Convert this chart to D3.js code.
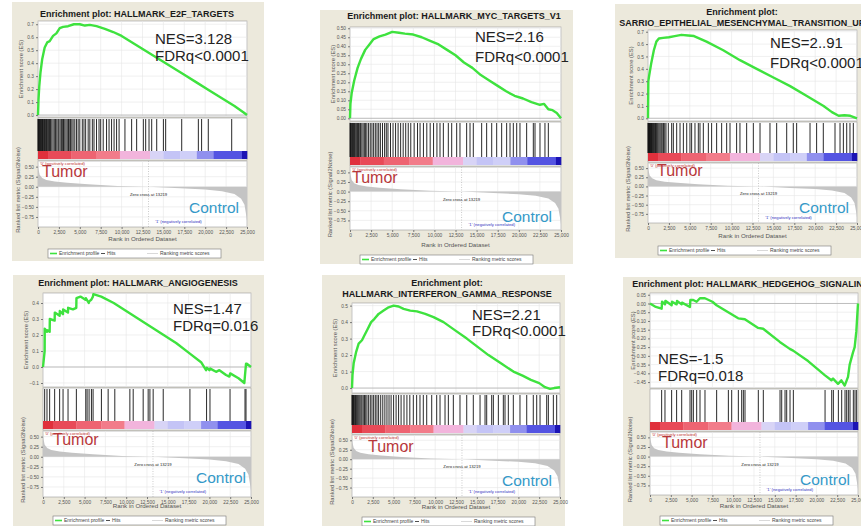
<!DOCTYPE html>
<html>
<head>
<meta charset="utf-8">
<script src="https://cdn.jsdelivr.net/npm/d3@7"></script>
<style>
  body { margin: 0; background: #fff; }
  text { font-family: "Liberation Sans", Arial, sans-serif; }
</style>
</head>
<body>
<svg id="chart" width="861" height="526"></svg>
<script>
// ---- shared data (same ranked list in every plot) ----
var rankTicks = [0, 2500, 5000, 7500, 10000, 12500, 15000, 17500, 20000, 22500, 25000];
var metricTicks = [0.5, 0.25, 0, -0.25, -0.5, -0.75];
var zeroCross = 13219;

var metricRank  = [0, 50, 200, 500, 1000, 2000, 3500, 6000, 9500, 13219, 17000, 20000, 22000, 23500, 24300, 24700, 24900, 25000];
var metricValue = [0.62, 0.45, 0.3, 0.22, 0.17, 0.13, 0.1, 0.06, 0.02, 0, -0.04, -0.07, -0.11, -0.18, -0.3, -0.45, -0.7, -0.85];

var barStops  = [0, 1200, 4000, 7000, 9800, 13400, 15000, 17000, 19000, 21000, 24400, 25000];
var barColors = ["#e0303c", "#e84a58", "#ee6472", "#f27c8a", "#f2b4dc", "#d8d4f6", "#c4c4f6", "#cfcff8", "#9090ee", "#5454e2", "#1c14b4"];

// ---- per gene set data ----
var e2fTitle = ["Enrichment plot: HALLMARK_E2F_TARGETS"];
var e2fRank = [0, 60, 150, 300, 500, 800, 1100, 1400, 1800, 2200, 2600, 3000, 3600, 4300, 5000, 5600, 6200, 7000, 8000, 9000, 10000, 11500, 13000, 14500, 16000, 17500, 19000, 20500, 22000, 23500, 24600, 25000];
var e2fES   = [0, 0.12, 0.22, 0.33, 0.43, 0.52, 0.56, 0.57, 0.61, 0.63, 0.67, 0.68, 0.685, 0.7, 0.7, 0.69, 0.695, 0.685, 0.665, 0.64, 0.61, 0.55, 0.49, 0.43, 0.37, 0.31, 0.25, 0.19, 0.13, 0.07, 0.02, 0];
var e2fHits = [0, 40, 90, 150, 210, 270, 330, 400, 470, 540, 610, 690, 770, 850, 930, 1010, 1100, 1190, 1280, 1380, 1500, 1650, 1800, 1950, 2100, 2250, 2400, 2500, 2650, 2800, 2950, 3050, 3200, 3350, 3500, 3650, 3800, 3900, 4050, 4200, 4400, 4600, 4800, 5000, 5300, 5500, 5700, 6000, 6200, 6500, 6700, 7000, 7300, 7500, 7800, 8200, 8500, 8800, 9100, 9400, 9700, 10400, 11200, 11800, 12600, 12880, 13280, 13600, 14200, 15000, 15270, 17190, 19180, 19570, 20370, 23170];
var e2fTicks = [0, 0.1, 0.2, 0.3, 0.4, 0.5, 0.6, 0.7];
var e2fStats = ["NES=3.128", "FDRq<0.0001"];

var mycTitle = ["Enrichment plot: HALLMARK_MYC_TARGETS_V1"];
var mycRank = [0, 50, 200, 500, 900, 1300, 1800, 2300, 2800, 3500, 4200, 5000, 5800, 6500, 7500, 8500, 9500, 10500, 11500, 12500, 13500, 14500, 15500, 16500, 17500, 18500, 19500, 20500, 21500, 22500, 23000, 23500, 24000, 24500, 25000];
var mycES   = [0, 0.08, 0.14, 0.21, 0.28, 0.33, 0.38, 0.41, 0.44, 0.455, 0.465, 0.48, 0.475, 0.47, 0.465, 0.45, 0.43, 0.41, 0.38, 0.35, 0.31, 0.28, 0.24, 0.21, 0.18, 0.15, 0.125, 0.11, 0.09, 0.075, 0.08, 0.05, 0.045, 0.03, 0];
var mycHits = [0, 60, 120, 200, 280, 350, 430, 520, 600, 700, 800, 900, 1000, 1100, 1250, 1400, 1550, 1700, 1850, 2000, 2200, 2400, 2600, 2800, 3000, 3200, 3400, 3600, 3850, 4100, 4300, 4500, 4800, 5100, 5400, 5700, 6000, 6300, 6600, 6900, 7200, 7600, 8000, 8300, 8700, 9100, 9500, 9900, 10300, 10665, 11060, 11650, 12050, 12640, 13030, 13820, 14220, 14610, 15600, 16190, 16790, 17380, 17970, 18560, 18960, 19350, 19750, 20140, 20930, 21720, 21920, 22510, 23100, 23500];
var mycTicks = [0, 0.05, 0.1, 0.15, 0.2, 0.25, 0.3, 0.35, 0.4, 0.45, 0.5];
var mycStats = ["NES=2.16", "FDRq<0.0001"];

var sarTitle = ["Enrichment plot:", "SARRIO_EPITHELIAL_MESENCHYMAL_TRANSITION_UP"];
var sarRank = [0, 40, 150, 400, 700, 1000, 1300, 1800, 2500, 3200, 4000, 4800, 5500, 7000, 9000, 11000, 13000, 15000, 17000, 19000, 21000, 22000, 22800, 23500, 24200, 25000];
var sarES   = [0, 0.3, 0.35, 0.45, 0.55, 0.62, 0.645, 0.65, 0.655, 0.665, 0.675, 0.67, 0.665, 0.62, 0.55, 0.47, 0.4, 0.33, 0.26, 0.18, 0.1, 0.05, 0.02, 0.025, 0.02, 0];
var sarHits = [0, 40, 80, 130, 180, 230, 290, 350, 420, 490, 560, 640, 720, 800, 900, 1000, 1100, 1200, 1320, 1450, 1580, 1700, 1850, 2000, 2150, 2430, 2830, 3030, 3430, 3830, 4230, 4630, 5020, 5220, 5620, 6020, 6220, 6620, 7220, 7610, 8210, 8810, 9410, 9810, 10600, 11000, 11800, 12600, 13400, 14590, 15390, 16590, 17380, 17780, 19380, 20170, 20970, 22370, 22970, 23370, 23770, 24160, 24560];
var sarTicks = [0, 0.1, 0.2, 0.3, 0.4, 0.5, 0.6, 0.7];
var sarStats = ["NES=2..91", "FDRq<0.0001"];

var angTitle = ["Enrichment plot: HALLMARK_ANGIOGENESIS"];
var angRank = [0, 200, 210, 480, 500, 800, 820, 1400, 1420, 2000, 2020, 2400, 2420, 3000, 3020, 3600, 4000, 4020, 4500, 5100, 5150, 5500, 5550, 5800, 6000, 6050, 7000, 8500, 10000, 11500, 13000, 14500, 16000, 17500, 19000, 19600, 19700, 20000, 20100, 20800, 21200, 22000, 22400, 22500, 23500, 24200, 24280, 24400, 24500, 25000];
var angES   = [0, 0.1, 0.24, 0.22, 0.23, 0.22, 0.3, 0.29, 0.34, 0.32, 0.35, 0.33, 0.36, 0.34, 0.37, 0.36, 0.37, 0.43, 0.44, 0.42, 0.43, 0.4, 0.41, 0.42, 0.44, 0.455, 0.44, 0.4, 0.35, 0.3, 0.25, 0.2, 0.15, 0.09, 0.03, -0.02, -0.005, -0.02, -0.01, -0.03, -0.02, -0.05, -0.06, -0.04, -0.07, -0.1, -0.05, 0.02, 0.02, 0];
var angHits = [200, 480, 800, 1400, 2000, 2410, 3010, 4010, 5140, 5300, 5540, 5820, 6020, 7020, 7830, 8630, 10440, 10840, 12040, 12640, 12850, 13240, 14450, 17660, 19660, 20070, 22480, 24280, 24400];
var angTicks = [-0.1, 0, 0.1, 0.2, 0.3, 0.4];
var angStats = ["NES=1.47", "FDRq=0.016"];

var ifnTitle = ["Enrichment plot:", "HALLMARK_INTERFERON_GAMMA_RESPONSE"];
var ifnRank = [0, 60, 200, 500, 800, 1200, 1500, 1900, 2300, 2700, 3200, 3800, 4400, 5000, 5600, 6200, 7000, 7800, 8800, 9800, 11000, 12400, 13800, 15100, 16400, 17900, 19400, 20500, 21500, 22500, 23200, 23800, 24300, 25000];
var ifnES   = [0, 0.08, 0.15, 0.22, 0.27, 0.29, 0.32, 0.36, 0.4, 0.42, 0.45, 0.47, 0.49, 0.5, 0.495, 0.48, 0.47, 0.465, 0.45, 0.43, 0.4, 0.35, 0.3, 0.25, 0.2, 0.15, 0.1, 0.075, 0.05, 0.03, 0.005, -0.005, 0, 0.005];
var ifnHits = [0, 50, 110, 180, 260, 340, 430, 520, 620, 720, 830, 950, 1080, 1200, 1350, 1500, 1650, 1800, 2000, 2200, 2400, 2600, 2800, 3000, 3200, 3450, 3700, 3950, 4200, 4450, 4700, 5000, 5300, 5600, 5900, 6250, 6600, 6950, 7370, 7770, 8170, 8570, 8980, 9580, 10180, 10580, 11180, 11580, 12180, 12980, 13790, 14580, 15390, 15990, 16190, 16790, 16990, 17590, 18190, 18390, 18790, 19390, 20190, 21000, 21790, 22200, 22600, 23400, 23600, 24200, 24600];
var ifnTicks = [0, 0.1, 0.2, 0.3, 0.4, 0.5];
var ifnStats = ["NES=2.21", "FDRq<0.0001"];

var hhTitle = ["Enrichment plot: HALLMARK_HEDGEHOG_SIGNALING"];
var hhRank = [0, 700, 1400, 1450, 1800, 1850, 2600, 2650, 3200, 3250, 3800, 3850, 4800, 4850, 5200, 5600, 6000, 6600, 7500, 8000, 9400, 10600, 11400, 13000, 13600, 15600, 16800, 17200, 19000, 21000, 21800, 22000, 22600, 23000, 23400, 23800, 24000, 24400, 24600, 24800, 25000];
var hhES   = [0, -0.02, -0.03, 0.01, -0.005, 0.015, -0.01, 0.01, -0.005, 0.015, -0.005, 0.005, -0.02, 0.02, 0.02, 0.01, 0.03, 0.03, 0.01, -0.01, -0.05, -0.085, -0.09, -0.14, -0.145, -0.22, -0.26, -0.27, -0.33, -0.41, -0.44, -0.43, -0.46, -0.44, -0.47, -0.42, -0.35, -0.28, -0.25, -0.16, 0];
var hhHits = [1400, 1800, 2600, 3200, 3810, 4810, 5010, 5210, 5610, 6010, 6610, 8010, 9420, 9820, 10620, 11020, 11220, 11420, 13020, 13620, 15630, 15830, 16230, 16430, 16830, 17230, 21040, 21840, 22040, 22640, 23040, 23440, 23640, 23840, 24040, 24440, 24640, 24840];
var hhTicks = [-0.45, -0.4, -0.35, -0.3, -0.25, -0.2, -0.15, -0.1, -0.05, 0, 0.05];
var hhStats = ["NES=-1.5", "FDRq=0.018"];

// ---- where each plot sits on the page ----
var layouts = [
  {bx: 12, by: 2, bw: 252, bh: 259, tx: 137, ty: 17, px: 38, pr: 247, esTop: 21, esBot: 117, esDom: [-0.015, 0.725], fmt: ".1f",
   midBot: 160, rkBot: 227, lgY: 249, stats: [155, 43.5, 61], tumor: [42, 177], control: [239, 213]},
  {bx: 320, by: 10, bw: 253, bh: 254, tx: 454, ty: 18.5, px: 350, pr: 561, esTop: 27, esBot: 121, esDom: [-0.015, 0.507], fmt: ".2f",
   midBot: 166, rkBot: 230, lgY: 255, stats: [475, 42, 62], tumor: [352, 183], control: [552, 222]},
  {bx: 615, by: 4, bw: 260, bh: 254, tx: 742, ty: 15, px: 648, pr: 857, esTop: 30, esBot: 121, esDom: [-0.022, 0.714], fmt: ".1f",
   midBot: 162, rkBot: 223, lgY: 246, stats: [770, 48, 68], tumor: [657, 176], control: [849, 213]},
  {bx: 13, by: 275, bw: 251, bh: 260, tx: 138, ty: 286, px: 43, pr: 251, esTop: 293, esBot: 387, esDom: [-0.125, 0.4625], fmt: ".1f",
   midBot: 430, rkBot: 497, lgY: 516, stats: [173, 314, 331], tumor: [53, 445], control: [246, 483]},
  {bx: 322, by: 275, bw: 243, bh: 260, tx: 447, ty: 286, px: 352, pr: 560, esTop: 303, esBot: 393, esDom: [-0.03, 0.516], fmt: ".1f",
   midBot: 434, rkBot: 497, lgY: 517, stats: [472, 320, 336], tumor: [368, 452], control: [552, 486]},
  {bx: 623, by: 277, bw: 250, bh: 260, tx: 751, ty: 287, px: 650, pr: 858, esTop: 293, esBot: 388, esDom: [-0.484, 0.06], fmt: ".2f",
   midBot: 431, rkBot: 495, lgY: 516, stats: [658, 364, 381], tumor: [662, 448], control: [850, 485]}
];

var sets = [
  {title: e2fTitle, rank: e2fRank, es: e2fES, hits: e2fHits, ticks: e2fTicks, stats: e2fStats},
  {title: mycTitle, rank: mycRank, es: mycES, hits: mycHits, ticks: mycTicks, stats: mycStats},
  {title: sarTitle, rank: sarRank, es: sarES, hits: sarHits, ticks: sarTicks, stats: sarStats},
  {title: angTitle, rank: angRank, es: angES, hits: angHits, ticks: angTicks, stats: angStats},
  {title: ifnTitle, rank: ifnRank, es: ifnES, hits: ifnHits, ticks: ifnTicks, stats: ifnStats},
  {title: hhTitle, rank: hhRank, es: hhES, hits: hhHits, ticks: hhTicks, stats: hhStats}
];

var svg = d3.select("#chart");
svg.append("rect").attr("width", 861).attr("height", 526).attr("fill", "#fff");

var metric = metricRank.map((r, i) => [r, metricValue[i]]);

function styleAxis(g) {
  g.select(".domain").remove();
  g.selectAll(".tick line").attr("stroke", "#777");
  g.selectAll(".tick text").attr("fill", "#555").style("font-size", "4.8px");
}

function drawPanel(d, L) {
  var g = svg.append("g");

  g.append("rect")
      .attr("x", L.bx).attr("y", L.by)
      .attr("width", L.bw).attr("height", L.bh)
      .attr("fill", "#ece9dc");

  d.title.forEach((t, i) => {
    g.append("text")
        .attr("x", L.tx).attr("y", L.ty + i * 11)
        .attr("text-anchor", "middle")
        .style("font-size", "9px").style("font-weight", "bold")
        .attr("fill", "#1a1a1a")
        .text(t);
  });

  var cbTop = L.midBot - 9, cbBot = L.midBot - 1;
  var rkTop = L.midBot + 1;

  var x = d3.scaleLinear().domain([0, 25000]).range([L.px, L.pr]);
  var yES = d3.scaleLinear().domain(L.esDom).range([L.esBot, L.esTop]);
  var yRk = d3.scaleLinear().domain([-1.0, 0.64]).range([L.rkBot, rkTop]);

  // white plot areas
  [[L.esTop, L.esBot], [L.esBot + 1, L.midBot], [rkTop, L.rkBot]].forEach(b => {
    g.append("rect")
        .attr("x", L.px).attr("y", b[0])
        .attr("width", L.pr - L.px).attr("height", b[1] - b[0])
        .attr("fill", "#fff").attr("stroke", "#9a9a9a").attr("stroke-width", 0.6);
  });

  // grid
  var grid = g.append("g").attr("stroke", "#e6e6e6").attr("stroke-width", 0.6);
  rankTicks.forEach(t => {
    grid.append("line").attr("x1", x(t)).attr("x2", x(t)).attr("y1", L.esTop).attr("y2", L.esBot);
    grid.append("line").attr("x1", x(t)).attr("x2", x(t)).attr("y1", rkTop).attr("y2", L.rkBot);
  });
  d.ticks.forEach(t => {
    grid.append("line").attr("x1", L.px).attr("x2", L.pr).attr("y1", yES(t)).attr("y2", yES(t));
  });
  metricTicks.forEach(t => {
    grid.append("line").attr("x1", L.px).attr("x2", L.pr).attr("y1", yRk(t)).attr("y2", yRk(t));
  });

  // zero line of ES
  g.append("line")
      .attr("x1", L.px).attr("x2", L.pr)
      .attr("y1", yES(0)).attr("y2", yES(0))
      .attr("stroke", "#a8a8a8").attr("stroke-width", 0.7);

  // ranked metric
  g.append("path")
      .datum(metric)
      .attr("fill", "#c4c4c4")
      .attr("d", d3.area().x(p => x(p[0])).y0(yRk(0)).y1(p => yRk(p[1])));

  g.append("line")
      .attr("x1", x(zeroCross)).attr("x2", x(zeroCross))
      .attr("y1", rkTop).attr("y2", L.rkBot)
      .attr("stroke", "#aaa").attr("stroke-width", 0.6).attr("stroke-dasharray", "1,1.5");

  // hits
  g.append("g")
    .selectAll("line")
    .data(d.hits)
    .enter()
    .append("line")
      .attr("x1", h => x(h)).attr("x2", h => x(h))
      .attr("y1", L.esBot + 2).attr("y2", cbTop)
      .attr("stroke", "#111").attr("stroke-width", 0.9);

  // colour bar
  g.append("g")
    .selectAll("rect")
    .data(barColors)
    .enter()
    .append("rect")
      .attr("x", (c, i) => x(barStops[i]))
      .attr("width", (c, i) => x(barStops[i + 1]) - x(barStops[i]) + 0.3)
      .attr("y", cbTop).attr("height", cbBot - cbTop)
      .attr("fill", c => c);

  // enrichment profile
  g.append("path")
      .datum(d.rank.map((r, i) => [r, d.es[i]]))
      .attr("fill", "none")
      .attr("stroke", "#3ee23e")
      .attr("stroke-width", 2.4)
      .attr("stroke-linejoin", "round")
      .attr("d", d3.line().x(p => x(p[0])).y(p => yES(p[1])));

  // axes
  g.append("g")
      .attr("transform", `translate(${L.px},0)`)
      .call(d3.axisLeft(yES).tickValues(d.ticks).tickSize(2).tickPadding(2).tickFormat(d3.format(L.fmt)))
      .call(styleAxis);

  g.append("g")
      .attr("transform", `translate(${L.px},0)`)
      .call(d3.axisLeft(yRk).tickValues(metricTicks).tickSize(2).tickPadding(2).tickFormat(d3.format(".2f")))
      .call(styleAxis);

  g.append("g")
      .attr("transform", `translate(0,${L.rkBot})`)
      .call(d3.axisBottom(x).tickValues(rankTicks).tickSize(2).tickPadding(1.5).tickFormat(d3.format(",")))
      .call(styleAxis);

  // axis titles
  g.append("text")
      .attr("transform", "rotate(-90)")
      .attr("x", -(L.esTop + L.esBot) / 2).attr("y", L.px - 15)
      .attr("text-anchor", "middle")
      .style("font-size", "5.8px").attr("fill", "#555")
      .text("Enrichment score (ES)");

  g.append("text")
      .attr("transform", "rotate(-90)")
      .attr("x", -(rkTop + L.rkBot) / 2 + 4).attr("y", L.px - 18)
      .attr("text-anchor", "middle")
      .style("font-size", "5.8px").attr("fill", "#555")
      .text("Ranked list metric (Signal2Noise)");

  g.append("text")
      .attr("x", (L.px + L.pr) / 2).attr("y", L.lgY - 8)
      .attr("text-anchor", "middle")
      .style("font-size", "6.2px").attr("fill", "#555")
      .text("Rank in Ordered Dataset");

  // small notes in the ranked area
  g.append("text")
      .attr("x", L.px + 2).attr("y", rkTop + 4)
      .style("font-size", "4.2px").attr("fill", "#c03030")
      .text("'0' (positively correlated)");

  g.append("text")
      .attr("x", x(zeroCross)).attr("y", yRk(-0.24))
      .attr("text-anchor", "middle")
      .style("font-size", "4.2px").attr("fill", "#222")
      .text("Zero cross at " + zeroCross);

  g.append("text")
      .attr("x", x(16800)).attr("y", L.rkBot - 4)
      .attr("text-anchor", "middle")
      .style("font-size", "4.2px").attr("fill", "#3030c0")
      .text("'1' (negatively correlated)");

  // big annotations
  g.append("text")
      .attr("x", L.tumor[0]).attr("y", L.tumor[1])
      .style("font-size", "16px").attr("fill", "#b8383a")
      .text("Tumor");

  g.append("text")
      .attr("x", L.control[0]).attr("y", L.control[1])
      .attr("text-anchor", "end")
      .style("font-size", "15.5px").attr("fill", "#3499c8")
      .text("Control");

  d.stats.forEach((s, i) => {
    g.append("text")
        .attr("x", L.stats[0]).attr("y", L.stats[i + 1])
        .style("font-size", "15px").attr("fill", "#222")
        .text(s);
  });

  // legend
  var lx = L.px + 10, ly = L.lgY;
  var lg = g.append("g");
  lg.append("rect")
      .attr("x", lx).attr("y", ly).attr("width", 173).attr("height", 9)
      .attr("fill", "#fff").attr("stroke", "#777").attr("stroke-width", 0.6);
  var items = [
    {label: "Enrichment profile", color: "#3ee23e", w: 1.6, x0: 2, tx: 11},
    {label: "Hits", color: "#222", w: 0.8, x0: 53, tx: 59},
    {label: "Ranking metric scores", color: "#cfcfcf", w: 0.8, x0: 99, tx: 112}
  ];
  items.forEach(it => {
    lg.append("line")
        .attr("x1", lx + it.x0).attr("x2", lx + it.tx - 2)
        .attr("y1", ly + 4.5).attr("y2", ly + 4.5)
        .attr("stroke", it.color).attr("stroke-width", it.w);
    lg.append("text")
        .attr("x", lx + it.tx).attr("y", ly + 6.3)
        .style("font-size", "5px").attr("fill", "#444")
        .text(it.label);
  });
}

sets.forEach((d, i) => drawPanel(d, layouts[i]));
</script>
</body>
</html>
